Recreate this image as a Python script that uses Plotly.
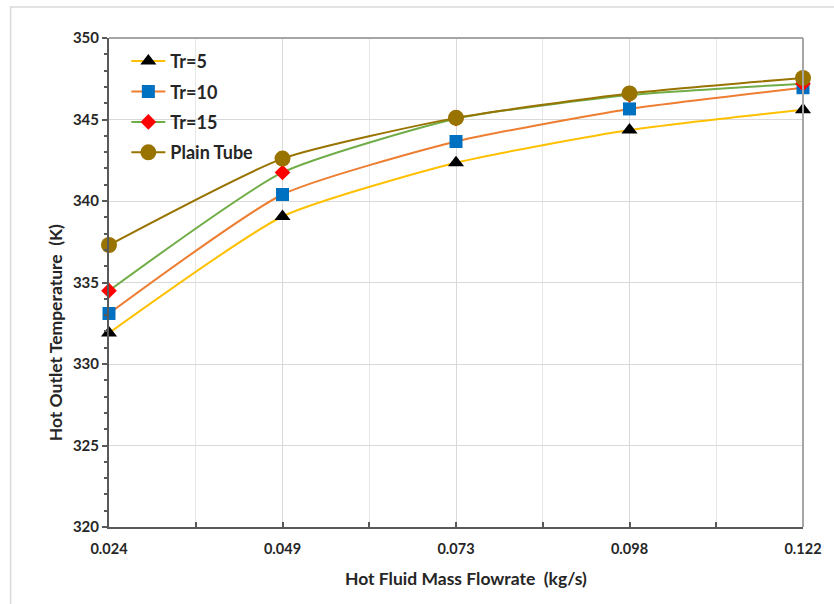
import plotly.graph_objects as go

# Hot fluid mass flowrate (kg/s) – plotted at evenly spaced positions
flow_labels = ["0.024", "0.049", "0.073", "0.098", "0.122"]
flow_pos = [0, 1, 2, 3, 4]

# Hot outlet temperature (K) for each twist ratio and the plain tube
tr5 = [331.9, 339.05, 342.35, 344.35, 345.6]
tr10 = [333.1, 340.4, 343.65, 345.65, 346.95]
tr15 = [334.5, 341.75, 345.05, 346.5, 347.2]
plain = [337.3, 342.6, 345.1, 346.6, 347.55]

y_ticks = [320, 325, 330, 335, 340, 345, 350]

series = [
    ("Tr=5", tr5, "#FFC000", "triangle-up", "#000000", 14),
    ("Tr=10", tr10, "#ED7D31", "square", "#0070C0", 13),
    ("Tr=15", tr15, "#70AD47", "diamond", "#FF0000", 12),
    ("Plain Tube", plain, "#997300", "circle", "#997300", 16),
]

W, H = 834, 604
L, R, T, B = 109, 27, 38, 77
pw, ph = W - L - R, H - T - B

fig = go.Figure()
for i, (name, vals, lc, sym, mc, ms) in enumerate(series):
    fig.add_trace(go.Scatter(
        x=flow_pos, y=vals, name=name, mode="lines+markers",
        line=dict(color=lc, width=2, shape="spline", smoothing=0.55),
        marker=dict(symbol=sym, color=mc, size=ms, line=dict(width=0)),
        legendgroup=f"g{i}", cliponaxis=False,
    ))

font_fam = "Lato, 'Open Sans', sans-serif"
txt = "#262626"

fig.update_layout(
    width=W, height=H,
    margin=dict(l=L, r=R, t=T, b=B),
    paper_bgcolor="white", plot_bgcolor="white",
    font=dict(family=font_fam, color=txt),
    showlegend=True,
    legend=dict(
        x=0.025, y=0.99, xanchor="left", yanchor="top",
        font=dict(size=18, family=font_fam, color=txt, weight="bold"),
        bgcolor="rgba(255,255,255,0)", tracegroupgap=4, itemwidth=34,
    ),
    xaxis=dict(
        range=[0, 4], tickvals=flow_pos, ticktext=flow_labels,
        showgrid=True, gridcolor="#d9d9d9", gridwidth=1,
        showline=True, linecolor="#595959", linewidth=2,
        ticks="inside", ticklen=5, tickcolor="#595959", tickwidth=1.5,
        minor=dict(dtick=0.5, ticks="inside", ticklen=5, tickcolor="#595959",
                   showgrid=True, gridcolor="#e6e6e6", gridwidth=1),
        tickfont=dict(size=14.5, family=font_fam, color=txt, weight="bold"),
        zeroline=False, ticklabelstandoff=8,
    ),
    yaxis=dict(
        range=[320, 350], tickvals=y_ticks,
        showgrid=True, gridcolor="#d9d9d9", gridwidth=1,
        showline=True, linecolor="#595959", linewidth=2,
        ticks="outside", ticklen=5, tickcolor="#595959", tickwidth=1.5,
        minor=dict(dtick=1, ticks="outside", ticklen=3, tickcolor="#595959", showgrid=False),
        tickfont=dict(size=15, family=font_fam, color=txt, weight="bold"),
        zeroline=False,
    ),
)

# Axis titles
fig.add_annotation(text="Hot Fluid Mass Flowrate  (kg/s)", xref="paper", yref="paper",
                   x=(468 - L) / pw, y=(H - B - 578) / ph, showarrow=False,
                   xanchor="center", yanchor="middle",
                   font=dict(size=17.5, family=font_fam, color=txt, weight="bold"))
fig.add_annotation(text="Hot Outlet Temperature  (K)", xref="paper", yref="paper",
                   x=(56 - L) / pw, y=(H - B - 333) / ph, showarrow=False, textangle=-90,
                   xanchor="center", yanchor="middle",
                   font=dict(size=17.5, family=font_fam, color=txt, weight="bold"))

# Plot-area border on the top and right sides
fig.add_shape(type="line", xref="paper", yref="paper", x0=0, x1=1, y0=1, y1=1,
              line=dict(color="#a6a6a6", width=2), layer="above")
fig.add_shape(type="line", xref="paper", yref="paper", x0=1, x1=1, y0=0, y1=1,
              line=dict(color="#a6a6a6", width=2), layer="above")

# Outer chart frame
fx0 = (10 - L) / pw
fx1 = (W + 10 - L) / pw
fy1 = (H - B - 7) / ph
fy0 = (H - B - (H + 10)) / ph
fig.add_shape(type="rect", xref="paper", yref="paper", x0=fx0, x1=fx1, y0=fy0, y1=fy1,
              line=dict(color="#d9d9d9", width=1.5), layer="below")

fig.write_html("out.html")
